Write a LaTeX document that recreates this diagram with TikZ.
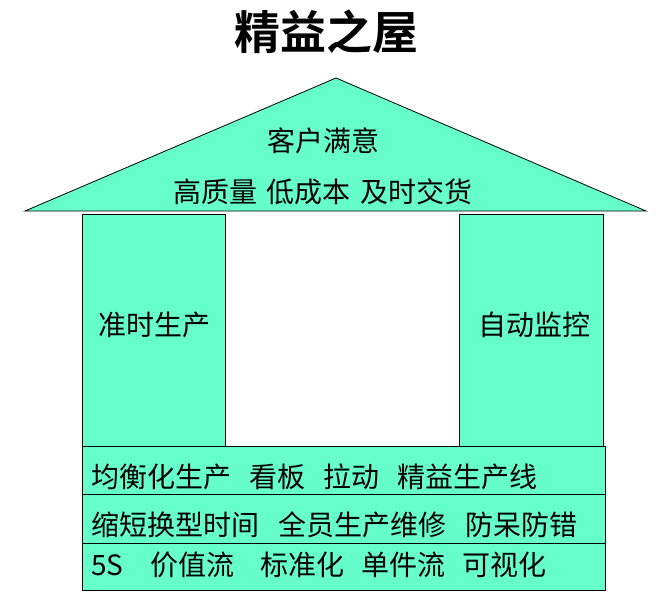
\documentclass[tikz,border=0pt]{standalone}
\usepackage{fontspec}
\setmainfont{Noto Sans CJK SC}[BoldFont={Noto Sans CJK SC Bold}]
\definecolor{aqua}{RGB}{102,255,204}
\begin{document}
\begin{tikzpicture}[x=1pt,y=-1pt,
  part/.style={draw=black,fill=aqua,line width=0.8pt},
  txt/.style={inner sep=0pt,font=\fontsize{28}{30}\selectfont},
  rowtxt/.style={txt,anchor=west}]
\useasboundingbox (0,0) rectangle (671,615);
% title
\node[inner sep=0pt,font=\fontsize{46}{50}\selectfont\bfseries] (title) at (326,32) {精益之屋};
% roof
\path[part] (25,211) coordinate (roofL) -- (336,78) coordinate (apex) -- (646,211) coordinate (roofR) -- cycle;
\node[txt] (cust) at (323,141) {客户满意};
\node[txt] (goal) at (323,192) {高质量\hspace{9.5pt}低成本\hspace{9.5pt}及时交货};
% pillars
\node[part,minimum width=143pt,minimum height=233pt,inner sep=0pt] (pL) at (153.5,330.5) {};
\node[part,minimum width=144pt,minimum height=233pt,inner sep=0pt] (pR) at (531,330.5) {};
\node[txt] (jit) at (154.5,325) {准时生产};
\node[txt] (jido) at (534.5,325) {自动监控};
% foundation rows
\node[part,minimum width=523pt,minimum height=48pt,inner sep=0pt] (r1) at (343.5,470) {};
\node[part,minimum width=523pt,minimum height=49pt,inner sep=0pt] (r2) at (343.5,518.5) {};
\node[part,minimum width=523pt,minimum height=47pt,inner sep=0pt] (r3) at (343.5,566.5) {};
\node[rowtxt] (t1) at (91,477) {均衡化生产\hspace{18pt}看板\hspace{18pt}拉动\hspace{18pt}精益生产线};
\node[rowtxt] (t2) at (91,525) {缩短换型时间\hspace{19pt}全员生产维修\hspace{19pt}防呆防错};
\node[rowtxt] (t3) at (91,565) {5S\hspace{27pt}价值流\hspace{26pt}标准化\hspace{17pt}单件流\hspace{17pt}可视化};
\end{tikzpicture}
\end{document}
